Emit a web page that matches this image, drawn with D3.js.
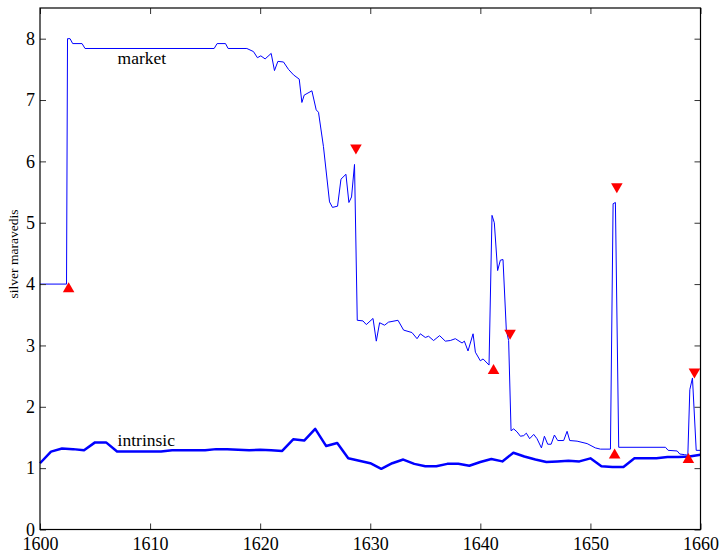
<!DOCTYPE html>
<html>
<head>
<meta charset="utf-8">
<script src="https://cdn.jsdelivr.net/npm/d3@7"></script>
<style>
  html, body { margin: 0; padding: 0; background: #fff; }
  svg { display: block; }
  svg text { font-family: "Liberation Serif", "Times New Roman", serif !important; fill: #000; }
</style>
</head>
<body>
<svg id="chart" width="722" height="554"></svg>
<script>
// ---- data ----
const intrinsicYears = d3.range(1600, 1661);
const intrinsicValues = [
  1.08, 1.27, 1.32, 1.31, 1.29, 1.42, 1.42, 1.27, 1.27, 1.27,
  1.27, 1.27, 1.29, 1.29, 1.29, 1.29, 1.31, 1.31, 1.30, 1.29,
  1.30, 1.29, 1.28, 1.47, 1.45, 1.64, 1.36, 1.41, 1.16, 1.12,
  1.08, 0.99, 1.08, 1.14, 1.07, 1.03, 1.03, 1.07, 1.07, 1.04,
  1.10, 1.15, 1.11, 1.25, 1.19, 1.14, 1.10, 1.11, 1.12, 1.11,
  1.16, 1.03, 1.02, 1.02, 1.16, 1.16, 1.16, 1.18, 1.18, 1.19,
  1.22
];
const marketYears = [
  1600, 1602.41, 1602.5, 1602.73, 1602.97, 1603.82, 1604.09, 1615.82, 1616.09, 1616.85,
  1617.09, 1618.79, 1619.39, 1619.75, 1620.06, 1620.45, 1621.0, 1621.3, 1621.61, 1622.12,
  1622.57, 1623.03, 1623.55, 1623.79, 1624.0, 1624.7, 1625.09, 1625.3, 1625.75, 1626.3,
  1626.57, 1627.03, 1627.34, 1627.79, 1628.06, 1628.3, 1628.57, 1628.82, 1629.34, 1629.64,
  1630.25, 1630.55, 1630.85, 1631.3, 1631.66, 1632.52, 1633.03, 1633.79, 1634.25, 1634.55,
  1635.0, 1635.3, 1635.75, 1636.3, 1636.82, 1637.27, 1637.73, 1638.34, 1638.55, 1638.88,
  1639.34, 1639.55, 1640.0, 1640.25, 1640.79, 1641.06, 1641.27, 1641.57, 1641.82, 1642.06,
  1642.36, 1642.57, 1642.79, 1643.03, 1643.34, 1643.64, 1643.94, 1644.18, 1644.48, 1644.85,
  1645.15, 1645.55, 1645.82, 1646.12, 1646.43, 1646.73, 1647.03, 1647.57, 1647.88, 1648.12,
  1648.79, 1649.7, 1650.45, 1650.91, 1651.82, 1652.06, 1652.27, 1652.57, 1656.82, 1657.06,
  1657.88, 1658.12, 1658.55, 1658.85, 1659.03, 1659.27, 1659.61, 1660
];
const marketValues = [
  4.00, 4.00, 8.00, 8.00, 7.92, 7.92, 7.84, 7.84, 7.92, 7.92,
  7.84, 7.84, 7.79, 7.69, 7.72, 7.67, 7.76, 7.48, 7.63, 7.62,
  7.50, 7.41, 7.34, 6.96, 7.08, 7.15, 6.84, 6.80, 6.24, 5.34,
  5.25, 5.27, 5.71, 5.79, 5.33, 5.42, 5.95, 3.41, 3.40, 3.34,
  3.44, 3.07, 3.37, 3.33, 3.38, 3.41, 3.25, 3.21, 3.11, 3.19,
  3.13, 3.15, 3.08, 3.16, 3.07, 3.08, 3.11, 3.04, 3.07, 2.91,
  3.19, 2.89, 2.75, 2.78, 2.68, 5.12, 5.00, 4.22, 4.39, 4.40,
  3.25, 3.08, 1.61, 1.64, 1.59, 1.52, 1.53, 1.57, 1.48, 1.55,
  1.48, 1.33, 1.52, 1.39, 1.39, 1.54, 1.45, 1.45, 1.60, 1.45,
  1.44, 1.40, 1.33, 1.31, 1.31, 5.31, 5.33, 1.34, 1.34, 1.29,
  1.28, 1.23, 1.22, 1.21, 2.28, 2.47, 1.29, 1.29
];
const upYears = [1602.6, 1641.2, 1652.2, 1658.9];
const upValues = [3.92, 2.59, 1.21, 1.14];
const downYears = [1628.7, 1642.7, 1652.4, 1659.45];
const downValues = [6.22, 3.20, 5.59, 2.57];
const xTicks = [1600, 1610, 1620, 1630, 1640, 1650, 1660];
const yTicks = [0, 1, 2, 3, 4, 5, 6, 7, 8];
const yLabel = "silver maravedis";
const labels = [{text: "market", x: 1607.05, y: 7.59}, {text: "intrinsic", x: 1607.05, y: 1.36}];

// ---- layout ----
const svg = d3.select("#chart");
const L = 40, R = 700.5, T = 8, B = 529.5;
const x = d3.scaleLinear().domain([1600, 1660]).range([L, R]);
const y = d3.scaleLinear().domain([0, 8.5]).range([B, T]);

// lines
const market = marketYears.map((d, i) => [d, marketValues[i]]);
const intrinsic = intrinsicYears.map((d, i) => [d, intrinsicValues[i]]);
const line = d3.line().x(d => x(d[0])).y(d => y(d[1]));

svg.append("path").datum(market).attr("d", line)
  .attr("fill", "none").attr("stroke", "#0000ff").attr("stroke-width", 1)
  .attr("stroke-linejoin", "round");
svg.append("path").datum(intrinsic).attr("d", line)
  .attr("fill", "none").attr("stroke", "#0000ff").attr("stroke-width", 2.5)
  .attr("stroke-linejoin", "round");

// markers
const tri = d3.symbol().type(d3.symbolTriangle).size(58);
svg.selectAll(".up").data(upYears.map((d, i) => [d, upValues[i]])).enter()
  .append("path").attr("d", tri)
  .attr("transform", d => `translate(${x(d[0])},${y(d[1])})`)
  .attr("fill", "#ff0000");
svg.selectAll(".down").data(downYears.map((d, i) => [d, downValues[i]])).enter()
  .append("path").attr("d", tri)
  .attr("transform", d => `translate(${x(d[0])},${y(d[1])}) rotate(180)`)
  .attr("fill", "#ff0000");

// text labels
svg.selectAll(".lbl").data(labels).enter().append("text")
  .attr("x", d => x(d.x)).attr("y", d => y(d.y))
  .style("font-size", "17.5px").text(d => d.text);

// axes (inward ticks, MATLAB style)
const tickLen = 6;
const gB = svg.append("g").attr("transform", `translate(0,${B})`)
  .call(d3.axisBottom(x).tickValues(xTicks).tickFormat(d3.format("d")).tickSizeInner(-tickLen).tickSizeOuter(0).tickPadding(8));
const gT = svg.append("g").attr("transform", `translate(0,${T})`)
  .call(d3.axisTop(x).tickValues(xTicks).tickFormat("").tickSizeInner(-tickLen).tickSizeOuter(0));
const gL = svg.append("g").attr("transform", `translate(${L},0)`)
  .call(d3.axisLeft(y).tickValues(yTicks).tickFormat(d3.format("d")).tickSizeInner(-tickLen).tickSizeOuter(0).tickPadding(5));
const gR = svg.append("g").attr("transform", `translate(${R},0)`)
  .call(d3.axisRight(y).tickValues(yTicks).tickFormat("").tickSizeInner(-tickLen).tickSizeOuter(0));
[gB, gT, gL, gR].forEach(g => {
  g.attr("font-family", null).attr("font-size", null);
  g.select(".domain").remove();
  g.selectAll("line").attr("stroke", "#333");
  g.selectAll("text").style("font-size", "18px").attr("fill", "#000");
});

// box
svg.append("rect").attr("x", L).attr("y", T).attr("width", R - L).attr("height", B - T)
  .attr("fill", "none").attr("stroke", "#000").attr("stroke-width", 1.2);

// y label
svg.append("text")
  .attr("transform", `translate(18,254) rotate(-90)`)
  .attr("text-anchor", "middle").style("font-size", "13.5px").text(yLabel);
</script>
</body>
</html>
